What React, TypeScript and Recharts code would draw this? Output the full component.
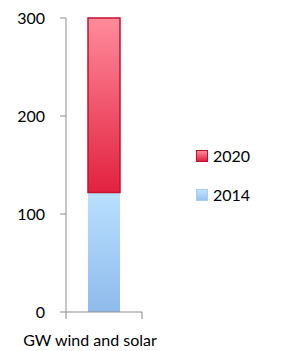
import React from 'react';
import { BarChart, Bar, XAxis, YAxis, Legend } from 'recharts';

const categories = ['GW wind and solar'];
const gw2014 = [122];
const gw2020 = [178];
const yTicks = [0, 100, 200, 300];

const data = categories.map((name, i) => ({ name, y2014: gw2014[i], y2020: gw2020[i] }));

const FONT = 'Lato, "Open Sans", sans-serif';

const CategoryTick = (props: any) => {
  const { x, y, payload } = props;
  // y arrives below the axis line by tickSize + tickMargin
  const top = y - 8;
  return (
    <g>
      <line x1={x - 38} y1={top} x2={x - 38} y2={top + 7} stroke="#8c8c8c" />
      <line x1={x + 38} y1={top} x2={x + 38} y2={top + 7} stroke="#8c8c8c" />
      <text x={x - 14} y={top + 34} textAnchor="middle" fill="#000" fontSize={16} fontFamily={FONT}>
        {payload.value}
      </text>
    </g>
  );
};

const LegendBox = (props: any) => {
  const items = [...(props.payload || [])].reverse();
  return (
    <div style={{ fontFamily: FONT, fontSize: 16, color: '#000' }}>
      {items.map((it: any) => {
        const red = it.dataKey === 'y2020';
        return (
          <div key={it.dataKey} style={{ display: 'flex', alignItems: 'center', height: 39 }}>
            <span
              style={{
                display: 'inline-block',
                width: 10,
                height: 10,
                marginRight: 5,
                border: red ? '1px solid #c0102c' : '1px solid #a8cdf0',
                background: red
                  ? 'linear-gradient(#ff8a9a, #e02040)'
                  : 'linear-gradient(#bfe3ff, #98c2f0)',
              }}
            />
            {it.value}
          </div>
        );
      })}
    </div>
  );
};

export default function App() {
  return (
    <div style={{ position: 'absolute', left: 0, top: 0, background: '#fff' }}>
      <BarChart
        width={281}
        height={351}
        data={data}
        margin={{ top: 18, right: 59, bottom: 0, left: 0 }}
        barSize={32}
      >
        <defs>
          <linearGradient id="g2020" x1="0" y1="0" x2="0" y2="1">
            <stop offset="0%" stopColor="#ff8b9b" />
            <stop offset="100%" stopColor="#e2213f" />
          </linearGradient>
          <linearGradient id="g2014" x1="0" y1="0" x2="0" y2="1">
            <stop offset="0%" stopColor="#b9e0ff" />
            <stop offset="100%" stopColor="#8fbbec" />
          </linearGradient>
        </defs>
        <XAxis
          dataKey="name"
          height={39}
          axisLine={{ stroke: '#8c8c8c' }}
          tickLine={false}
          tick={<CategoryTick />}
          interval={0}
        />
        <YAxis
          width={66}
          domain={[0, 300]}
          ticks={yTicks}
          axisLine={{ stroke: '#8c8c8c' }}
          tickLine={{ stroke: '#8c8c8c' }}
          tickSize={6}
          tickMargin={15}
          tick={{ fill: '#000', fontSize: 16, fontFamily: FONT }}
        />
        <Legend
          layout="vertical"
          align="right"
          verticalAlign="middle"
          content={<LegendBox />}
          wrapperStyle={{ position: 'absolute', left: 196, top: 136, width: 80 }}
        />
        <Bar dataKey="y2014" name="2014" stackId="a" fill="url(#g2014)" isAnimationActive={false} />
        <Bar
          dataKey="y2020"
          name="2020"
          stackId="a"
          fill="url(#g2020)"
          stroke="#c8102e"
          strokeWidth={1.5}
          isAnimationActive={false}
        />
      </BarChart>
    </div>
  );
}
